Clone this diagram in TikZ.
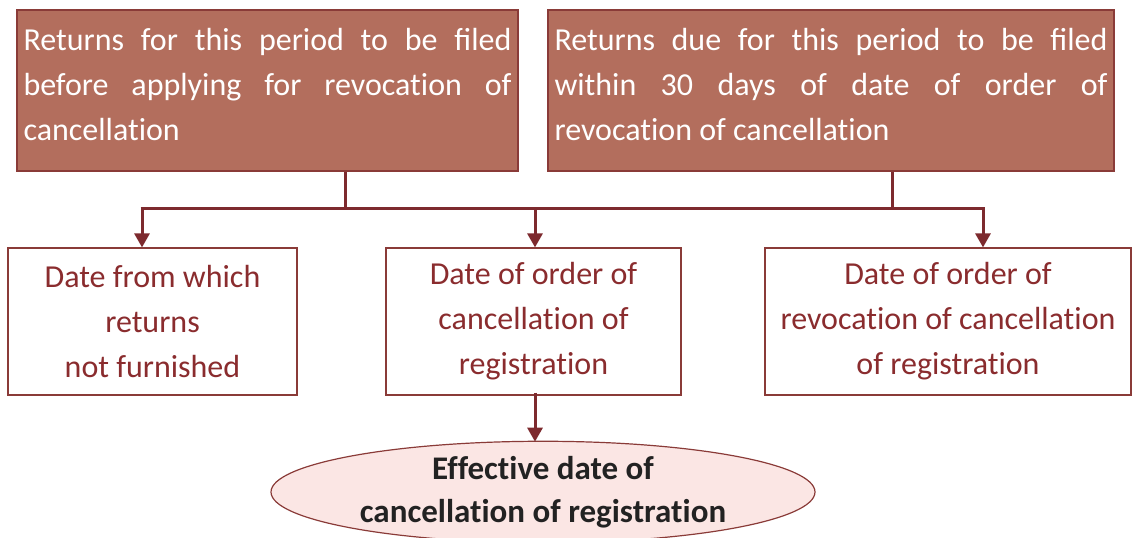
\documentclass[tikz,border=0pt]{standalone}
\usepackage{fontspec}
\setmainfont{Carlito}[Ligatures=NoCommon]
\usetikzlibrary{arrows.meta,shapes.geometric}
\definecolor{topfill}{HTML}{B36E5D}
\definecolor{topline}{HTML}{8A3B38}
\definecolor{conn}{HTML}{7D2A2E}
\definecolor{redtext}{HTML}{8A2C2E}
\definecolor{ellfill}{HTML}{FBE6E4}
\definecolor{darktext}{HTML}{222222}
\tikzset{
  topbox/.style={draw=topline, line width=1.5pt, fill=topfill, text=white,
    minimum height=161pt, inner sep=0pt, align=left,
    font=\fontsize{32}{45}\selectfont},
  lowbox/.style={draw=topline, line width=1.2pt, fill=white, text=redtext,
    minimum height=147pt, inner sep=0pt, align=center,
    font=\fontsize{32}{45}\selectfont},
  effell/.style={ellipse, draw=topline, line width=1.2pt, fill=ellfill, text=darktext,
    minimum width=544pt, minimum height=88pt, inner sep=0pt, align=center,
    font=\fontsize{33}{43}\selectfont\bfseries},
  conline/.style={draw=conn, line width=3pt},
  conarrow/.style={draw=conn, line width=3pt, -{Triangle[width=15pt,length=14pt]}},
}
\begin{document}
\begin{tikzpicture}[x=1pt,y=-1pt]
\useasboundingbox (0,0) rectangle (1138,538);
% top boxes
\node[topbox, minimum width=501pt] (TL) at (267.5,90.5) {%
\makebox[488pt][s]{Returns for this period to be ﬁled}\\
\makebox[488pt][s]{before applying for revocation of}\\
\makebox[488pt][l]{cancellation}\rule[-12pt]{0pt}{0pt}};
\node[topbox, minimum width=566pt] (TR) at (831,90.5) {%
\makebox[553pt][s]{Returns due for this period to be ﬁled}\\
\makebox[553pt][s]{within 30 days of date of order of}\\
\makebox[553pt][l]{revocation of cancellation}\rule[-12pt]{0pt}{0pt}};
% bottom boxes
\node[lowbox, minimum width=289pt] (BL) at (152.5,321.5) {Date from which\\returns\\not furnished};
\node[lowbox, minimum width=295pt] (BM) at (533.5,321.5) {Date of order of\\cancellation of\\registration};
\node[lowbox, minimum width=366pt] (BR) at (948,321.5) {Date of order of\\revocation of cancellation\\of registration};
% ellipse
\node[effell] (E) at (543,492) {Effective date of\\cancellation of registration};
% connector coordinates
\coordinate (j1) at (345,208);
\coordinate (j2) at (892,208);
\coordinate (a1) at (142,208);
\coordinate (a2) at (535,208);
\coordinate (a3) at (983,208);
\draw[conline] (TL.south -| j1) -- (j1);
\draw[conline] (TR.south -| j2) -- (j2);
\draw[conline] ([xshift=-1.5pt]a1) -- ([xshift=1.5pt]a3);
\draw[conarrow] (a1) -- (a1 |- BL.north);
\draw[conarrow] (a2) -- (a2 |- BM.north);
\draw[conarrow] (a3) -- (a3 |- BR.north);
\draw[conarrow] ([yshift=3pt]BM.south -| a2) -- ([yshift=-1pt]E.north -| a2);
\end{tikzpicture}
\end{document}
